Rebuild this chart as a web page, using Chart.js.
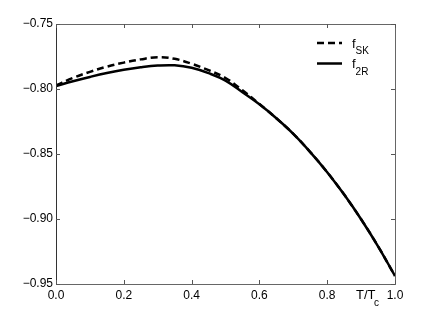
<!DOCTYPE html>
<html><head><meta charset="utf-8">
<script src="https://cdn.jsdelivr.net/npm/chart.js@4"></script>
<style>html,body{margin:0;padding:0;background:#fff;}#wrap{width:436px;height:321px;}</style>
</head><body><div id="wrap"><canvas id="c" width="436" height="321"></canvas></div>
<script>
const FONT = "'Liberation Sans',Arial,Helvetica,sans-serif";
const tValues = [0, 0.05, 0.1, 0.15, 0.2, 0.25, 0.3, 0.35, 0.4, 0.45, 0.5, 0.55, 0.6, 0.65, 0.7, 0.75, 0.8, 0.85, 0.9, 0.95, 1.0];
const f2R = [-0.7977, -0.7940, -0.7907, -0.7877, -0.7852, -0.7833, -0.7820, -0.7818, -0.7837, -0.7878, -0.7935, -0.8025, -0.8118, -0.8225, -0.8345, -0.8485, -0.8640, -0.8812, -0.9002, -0.9210, -0.9438];
const fSK = [-0.7972, -0.7915, -0.7868, -0.7828, -0.7797, -0.7772, -0.7756, -0.7768, -0.7806, -0.7855, -0.7915, -0.8010, -0.8115, -0.8225, -0.8345, -0.8485, -0.8640, -0.8812, -0.9002, -0.9210, -0.9438];
const xTicks = [0, 0.2, 0.4, 0.6, 0.8, 1.0];
const yTicks = [-0.95, -0.90, -0.85, -0.80, -0.75];
const legendLabels = [{base:'f', sub:'SK', dash:[7,4]}, {base:'f', sub:'2R', dash:[]}];
const axisLabel = {base:'T/T', sub:'c', value:0.885};

const framePlugin = {
  id:'frame',
  afterDraw(chart){
    const ctx = chart.ctx, a = chart.chartArea, xs = chart.scales.x, ys = chart.scales.y;
    ctx.save();
    ctx.strokeStyle = '#666'; ctx.lineWidth = 1;
    ctx.strokeRect(Math.round(a.left)+0.5, Math.round(a.top)+0.5, Math.round(a.right-a.left), Math.round(a.bottom-a.top));
    ctx.strokeStyle = '#333';
    ctx.beginPath(); ctx.moveTo(Math.round(a.left)+0.5, a.top); ctx.lineTo(Math.round(a.left)+0.5, a.bottom); ctx.stroke();
    ctx.strokeStyle = '#555';
    ctx.beginPath();
    xTicks.forEach(v=>{ const p = Math.round(xs.getPixelForValue(v))+0.5;
      ctx.moveTo(p, a.bottom); ctx.lineTo(p, a.bottom-4);
      ctx.moveTo(p, a.top); ctx.lineTo(p, a.top+4); });
    yTicks.forEach(v=>{ const p = Math.round(ys.getPixelForValue(v))+0.5;
      ctx.moveTo(a.left, p); ctx.lineTo(a.left+4, p);
      ctx.moveTo(a.right, p); ctx.lineTo(a.right-4, p); });
    ctx.stroke();
    // legend
    ctx.fillStyle = '#000'; ctx.strokeStyle = '#000'; ctx.lineWidth = 2.5;
    legendLabels.forEach((l,i)=>{
      const y = 43 + i*20.5;
      ctx.setLineDash(l.dash);
      ctx.beginPath(); ctx.moveTo(317,y); ctx.lineTo(342,y); ctx.stroke();
      ctx.setLineDash([]);
      ctx.font = '13px ' + FONT; ctx.textBaseline = 'alphabetic'; ctx.textAlign = 'left';
      ctx.fillText(l.base, 352, y+4.5);
      const w = ctx.measureText(l.base).width;
      ctx.font = '10px ' + FONT;
      ctx.fillText(l.sub, 352+w, y+11);
    });
    // axis label
    ctx.font = '13px ' + FONT;
    const x0 = xs.getPixelForValue(axisLabel.value);
    ctx.fillText(axisLabel.base, x0, 299);
    const w2 = ctx.measureText(axisLabel.base).width;
    ctx.font = '10px ' + FONT;
    ctx.fillText(axisLabel.sub, x0+w2-1.5, 305.5);
    ctx.restore();
  }
};

new Chart(document.getElementById('c'), {
  type:'line',
  data:{ datasets:[
    {label:'fSK', data:tValues.map((t,i)=>({x:t,y:fSK[i]})), borderColor:'#000', borderWidth:2.5, borderDash:[7,4], pointRadius:0, tension:0.4, fill:false},
    {label:'f2R', data:tValues.map((t,i)=>({x:t,y:f2R[i]})), borderColor:'#000', borderWidth:2.5, pointRadius:0, tension:0.4, fill:false}
  ]},
  options:{
    responsive:false, animation:false, devicePixelRatio:1,
    layout:{padding:{top:24, right:41, left:0, bottom:0}},
    plugins:{legend:{display:false}, tooltip:{enabled:false}},
    scales:{
      x:{type:'linear', min:0, max:1,
        afterBuildTicks(s){ s.ticks = xTicks.map(v=>({value:v})); },
        afterFit(s){ s.height = 37; },
        grid:{display:false, drawTicks:false}, border:{display:false},
        ticks:{padding:4, color:'#000', font:{family:FONT, size:12}, maxRotation:0, autoSkip:false, callback:v=>v.toFixed(1)}},
      y:{type:'linear', min:-0.95, max:-0.75,
        afterBuildTicks(s){ s.ticks = yTicks.map(v=>({value:v})); },
        afterFit(s){ s.width = 56; },
        grid:{display:false, drawTicks:false}, border:{display:false},
        ticks:{padding:3, color:'#000', font:{family:FONT, size:12}, autoSkip:false, callback:v=>'\u2212'+Math.abs(v).toFixed(2)}}
    }
  },
  plugins:[framePlugin]
});
</script></body></html>
